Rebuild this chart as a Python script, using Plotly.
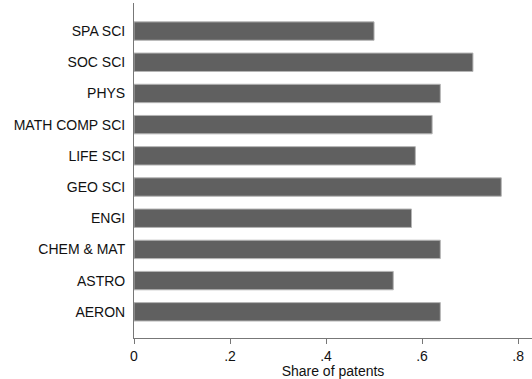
import plotly.graph_objects as go

# Fields listed bottom-to-top as drawn on the category axis
fields = ["AERON", "ASTRO", "CHEM & MAT", "ENGI", "GEO SCI",
          "LIFE SCI", "MATH COMP SCI", "PHYS", "SOC SCI", "SPA SCI"]
share = [0.638, 0.540, 0.638, 0.578, 0.765,
         0.586, 0.621, 0.638, 0.706, 0.500]

x_ticks = [0, 0.2, 0.4, 0.6, 0.8]
x_tick_text = ["0", ".2", ".4", ".6", ".8"]

fig = go.Figure(go.Bar(
    x=share,
    y=list(range(len(fields))),
    orientation="h",
    marker=dict(color="#606060", line=dict(color="#b4b4b4", width=1)),
    width=0.59,
))

fig.update_layout(
    width=532, height=379,
    margin=dict(l=134, r=0, t=3, b=41),
    paper_bgcolor="white", plot_bgcolor="white",
    font=dict(family="Liberation Sans, Arial, sans-serif", size=14, color="#111111"),
    showlegend=False,
)

fig.update_xaxes(
    range=[0, 0.829],
    tickvals=x_ticks, ticktext=x_tick_text,
    showgrid=False, zeroline=False,
    showline=True, linecolor="#777777", linewidth=1,
    ticks="outside", ticklen=5, tickcolor="#777777",
    title=dict(text="Share of patents", standoff=0, font=dict(size=14)),
)

fig.update_yaxes(
    range=[-0.84, 9.9],
    tickvals=list(range(len(fields))), ticktext=fields,
    showgrid=False, zeroline=False,
    showline=True, linecolor="#777777", linewidth=1,
    ticks="", ticklabelstandoff=5,
)

fig.write_html("out.html")
